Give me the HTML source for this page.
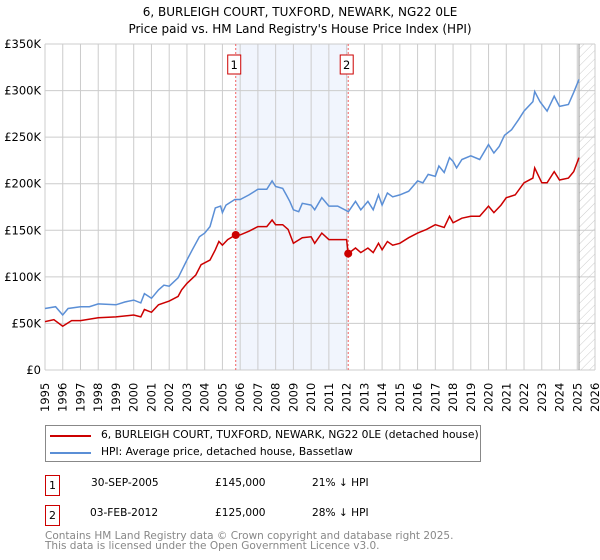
<!DOCTYPE html>
<html><head><meta charset="utf-8"><style>
body{margin:0;background:#fff;font-family:"DejaVu Sans","Liberation Sans",sans-serif;}
#wrap{position:relative;width:600px;height:560px;overflow:hidden}
.t{position:absolute;font-size:10.6px;color:#000;white-space:nowrap}
</style></head><body><div id="wrap">
<svg id="chart" width="600" height="420" style="position:absolute;left:0;top:0">
<defs><pattern id="hatch" width="6" height="6" patternUnits="userSpaceOnUse" patternTransform="rotate(45)"><line x1="0" y1="0" x2="0" y2="6" stroke="#ccc" stroke-width="1"/></pattern></defs>
<text x="300" y="16" text-anchor="middle" font-size="12" font-family="DejaVu Sans, Liberation Sans, sans-serif">6, BURLEIGH COURT, TUXFORD, NEWARK, NG22 0LE</text>
<text x="300" y="33" text-anchor="middle" font-size="12" font-family="DejaVu Sans, Liberation Sans, sans-serif">Price paid vs. HM Land Registry's House Price Index (HPI)</text>
<g id="g"></g>
</svg>
<div style="position:absolute;left:45px;top:425px;width:434px;height:35px;border:1px solid #888">
<div style="position:absolute;left:4px;top:9px;width:41px;height:2px;background:#cc0000"></div>
<div class="t" style="left:55px;top:2px;font-size:10.7px">6, BURLEIGH COURT, TUXFORD, NEWARK, NG22 0LE (detached house)</div>
<div style="position:absolute;left:4px;top:26px;width:41px;height:2px;background:#5b8fd6"></div>
<div class="t" style="left:55px;top:19px;font-size:10.7px">HPI: Average price, detached house, Bassetlaw</div>
</div>
<div style="position:absolute;left:45px;top:475px;width:13px;height:19px;border:1px solid #cc0000;font-size:11px;text-align:center;line-height:19px">1</div>
<div class="t" style="left:91px;top:477px">30-SEP-2005</div>
<div class="t" style="left:215px;top:477px">£145,000</div>
<div class="t" style="left:312px;top:477px">21% ↓ HPI</div>
<div style="position:absolute;left:45px;top:505px;width:13px;height:19px;border:1px solid #cc0000;font-size:11px;text-align:center;line-height:19px">2</div>
<div class="t" style="left:90px;top:507px">03-FEB-2012</div>
<div class="t" style="left:215px;top:507px">£125,000</div>
<div class="t" style="left:312px;top:507px">28% ↓ HPI</div>
<div class="t" style="left:45px;top:531px;color:#888;font-size:10.5px;line-height:10px">Contains HM Land Registry data © Crown copyright and database right 2025.<br>This data is licensed under the Open Government Licence v3.0.</div>
</div>
<script>
const hpiYears=[1995,1995.6,1996,1996.3,1997,1997.5,1998,1999,1999.5,2000,2000.4,2000.6,2001,2001.4,2001.7,2002,2002.5,2003,2003.3,2003.7,2004,2004.3,2004.6,2004.9,2005,2005.2,2005.7,2006,2006.5,2007,2007.5,2007.8,2008,2008.4,2008.6,2008.8,2009,2009.3,2009.5,2010,2010.2,2010.6,2011,2011.5,2012.1,2012.5,2012.8,2013.2,2013.5,2013.8,2014,2014.3,2014.6,2015,2015.5,2016,2016.3,2016.6,2017,2017.2,2017.5,2017.8,2018,2018.2,2018.5,2019,2019.5,2020,2020.3,2020.6,2020.9,2021.3,2021.7,2022,2022.5,2022.6,2022.9,2023.3,2023.7,2024,2024.5,2024.8,2025.1];
const hpiValues=[66,68,59,66,68,68,71,70,73,75,72,82,77,86,91,90,99,118,129,143,147,154,174,176,169,177,183,183,188,194,194,203,197,195,188,181,172,170,179,177,172,185,176,176,170,181,172,181,172,188,177,190,186,188,192,203,201,210,208,219,212,228,224,217,226,230,226,242,233,240,252,258,269,278,288,299,288,278,294,283,285,298,312];
const redYears=[1995,1995.5,1996,1996.5,1997,1998,1999,2000,2000.4,2000.6,2001,2001.4,2002,2002.5,2002.7,2003,2003.5,2003.8,2004.3,2004.6,2004.8,2005,2005.3,2005.75,2006,2006.5,2007,2007.5,2007.8,2008,2008.4,2008.7,2009,2009.5,2010,2010.2,2010.6,2011,2011.5,2012.0,2012.09,2012.5,2012.8,2013.2,2013.5,2013.8,2014,2014.3,2014.6,2015,2015.5,2016,2016.5,2017,2017.5,2017.8,2018,2018.5,2019,2019.5,2020,2020.3,2020.7,2021,2021.5,2022,2022.5,2022.6,2023,2023.3,2023.7,2024,2024.5,2024.8,2025.1];
const redValues=[52,54,47,53,53,56,57,59,57,65,62,70,74,79,86,93,102,113,118,129,138,134,140,145,145,149,154,154,161,156,156,151,136,142,143,136,147,140,140,140,125,131,126,131,126,136,129,138,134,136,142,147,151,156,153,165,158,163,165,165,176,169,177,185,188,201,206,217,201,201,213,204,206,213,228];
const saleYears=[2005.75,2012.09];
const saleValues=[145,125];
const saleLabels=["1","2"];
const yTicks=[0,50,100,150,200,250,300,350];
const yTickLabels=["£0","£50K","£100K","£150K","£200K","£250K","£300K","£350K"];
const xTicks=[1995,1996,1997,1998,1999,2000,2001,2002,2003,2004,2005,2006,2007,2008,2009,2010,2011,2012,2013,2014,2015,2016,2017,2018,2019,2020,2021,2022,2023,2024,2025,2026];
const dataEnd=2025.1;

const L=45,R=595,T=44,B=370;
const X=y=>L+(y-1995)/31*(R-L);
const Y=v=>B-v/350*(B-T);
const g=document.getElementById('g');
const NS='http://www.w3.org/2000/svg';
function mk(tag,attrs){const e=document.createElementNS(NS,tag);for(const k in attrs)e.setAttribute(k,attrs[k]);g.appendChild(e);return e;}
let e;
e=mk('rect',{x:X(saleYears[0]),y:T,width:X(saleYears[1])-X(saleYears[0]),height:B-T,fill:'#eef3fc',opacity:0.8});


e=mk('rect',{x:X(dataEnd),y:T,width:R-X(dataEnd),height:B-T,fill:'url(#hatch)'});


xTicks.forEach(t=>{
 e=mk('line',{x1:X(t),x2:X(t),y1:T,y2:B,stroke:'#ccc','stroke-width':1});
 
 
 e=mk('text',{x:0,y:0,transform:`translate(${X(t)+4},${B+42}) rotate(-90)`,'font-size':11.5,'font-family':'DejaVu Sans, Liberation Sans, sans-serif'});
 e.textContent=t;
 
 
});
yTicks.forEach((t,i)=>{
 e=mk('line',{x1:L,x2:R,y1:Y(t),y2:Y(t),stroke:'#ccc','stroke-width':1});
 
 
 e=mk('text',{x:L-4,y:Y(t)+4,'text-anchor':'end','font-size':11.5,'font-family':'DejaVu Sans, Liberation Sans, sans-serif'});
 e.textContent=yTickLabels[i];
 
 
});
e=mk('line',{x1:X(dataEnd),x2:X(dataEnd),y1:T,y2:B,stroke:'#999','stroke-width':1});


saleYears.forEach((s,i)=>{
 e=mk('line',{x1:X(s),x2:X(s),y1:T,y2:B,stroke:'#f06060','stroke-width':1,'stroke-dasharray':'2,2'});
 
 
 e=mk('rect',{x:X(s)-8,y:55,width:13,height:19,fill:'#fff',stroke:'#cc0000'});
 
 
 e=mk('text',{x:X(s)-1.5,y:69,'text-anchor':'middle','font-size':11.5,'font-family':'DejaVu Sans, Liberation Sans, sans-serif'});
 e.textContent=saleLabels[i];
 
 
});
const path=(xs,vs)=>xs.map((x,i)=>(i?'L':'M')+X(x).toFixed(1)+','+Y(vs[i]).toFixed(1)).join('');
e=mk('path',{d:path(hpiYears,hpiValues),fill:'none',stroke:'#5b8fd6','stroke-width':1.5});


e=mk('path',{d:path(redYears,redValues),fill:'none',stroke:'#cc0000','stroke-width':1.5});


saleYears.forEach((s,i)=>{
 e=mk('circle',{cx:X(s),cy:Y(saleValues[i]),r:4,fill:'#cc0000'});
 
 
});
</script>
</body></html>
